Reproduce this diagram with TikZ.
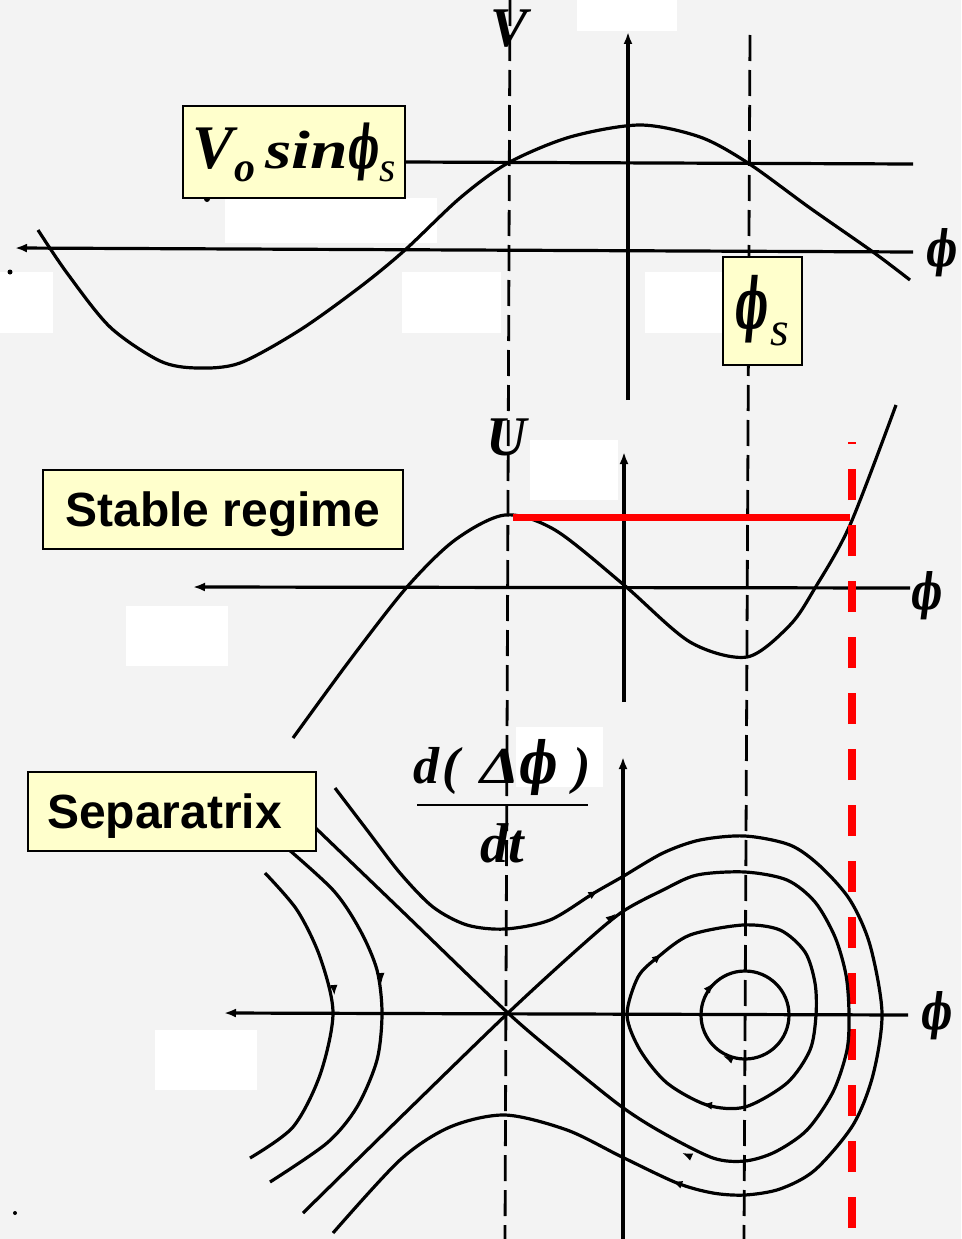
\documentclass[tikz,border=0pt]{standalone}
\usepackage{graphicx}
\usepackage{fontspec}
\setmainfont{Liberation Serif}
\newfontfamily\labelsans{Liberation Sans}
\newfontfamily\phifont{DejaVu Serif}
\usetikzlibrary{arrows.meta}
\definecolor{bg}{RGB}{243,243,243}
\definecolor{boxyellow}{RGB}{255,255,204}
\definecolor{markred}{RGB}{255,0,0}
\newcommand{\bphi}[1][0.8]{\scalebox{#1}[1]{\phifont\bfseries\itshape ϕ}}
\tikzset{
  curve/.style={line width=3.2pt, line join=round},
  axis/.style={line width=3.2pt, -{Latex[length=12pt,width=9pt]}},
  guide/.style={line width=2.8pt, dash pattern=on 26pt off 9pt},
  flow/.style={line width=1.5pt, -{Latex[length=10pt,width=8pt]}},
  ylwbox/.style={draw=black, line width=1.8pt, fill=boxyellow, inner sep=0pt},
  mask/.style={fill=white},
  redline/.style={draw=markred, line width=7pt},
  reddash/.style={draw=markred, line width=8pt, dash pattern=on 31pt off 25pt},
  sym/.style={inner sep=0pt, anchor=base},
}
\begin{document}
\begin{tikzpicture}[x=1pt,y=-1pt]
\fill[bg] (0,0) rectangle (961,1239);
\useasboundingbox (0,0) rectangle (961,1239);
% white masks
\fill[mask] (577,0) rectangle (677,31);
\fill[mask] (225,198) rectangle (437,243);
\fill[mask] (0,272) rectangle (53,333);
\fill[mask] (402,272) rectangle (501,333);
\fill[mask] (645,272) rectangle (722,333);
\fill[mask] (530,440) rectangle (618,500);
\fill[mask] (126,606) rectangle (228,666);
\fill[mask] (516,727) rectangle (603,787);
\fill[mask] (155,1030) rectangle (257,1090);
% specks
\fill (10,272) circle (2.5);
\fill (207,199) circle (3);
\fill (15,1213) circle (2);
% dashed guides
\draw[guide] (510,0) -- (505,1239);
\draw[guide] (750,35) -- (744,1239);
% ---------- top panel
\draw[axis] (628,400) -- (628,32);
\draw[axis] (913,252) -- (15,248);
\draw[curve] (405,162) -- (913,164);
\draw[curve] plot[smooth] coordinates {(38,230) (67,273) (110,327) (160,361) (197,368) (240,363) (300,330) (360,287) (405,250) (460,198) (508,163) (570,137) (640,125) (700,137) (748,163) (810,208) (873,252) (910,280)};
% ---------- middle panel
\draw[axis] (624,702) -- (624,452);
\draw[axis] (910,588) -- (193,587);
\draw[curve] plot[smooth] coordinates {(293,738) (350,660) (407,587) (455,540) (505,515) (555,530) (624,585) (690,642) (747,657) (790,625) (815,588) (850,525) (896,405)};
\coordinate (umax) at (513,517);
\coordinate (uhit) at (850,517);
\draw[redline] (umax) -- (uhit);
\draw[reddash] (852,1228) -- (852,442);
% ---------- bottom panel
\draw[axis] (623,1239) -- (623,757);
\draw[axis] (908,1015) -- (224,1013);
% outermost trajectory
\draw[curve] plot[smooth] coordinates {(335,788) (367,830) (400,873) (433,907) (467,925) (505,929) (550,920) (594,893) (622,877) (663,853) (700,840) (745,836) (790,845) (820,866) (850,900) (870,945) (882,1013) (873,1075) (853,1125) (815,1170) (780,1189) (745,1195) (713,1193) (677,1183) (622,1157) (567,1130) (505,1115) (450,1127) (400,1160) (333,1233)};
% separatrix
\draw[curve] plot[smooth] coordinates {(300,813) (404,913) (508,1013) (567,1063) (622,1107) (663,1133) (713,1158) (745,1161) (775,1152) (807,1130) (833,1092) (847,1050) (849,1013) (846,975) (835,937) (815,902) (787,880) (745,872) (697,875) (663,890) (622,912) (580,947) (508,1013) (405,1113) (303,1213)};
% closed orbit
\draw[curve] plot[smooth cycle] coordinates {(627,1015) (638,977) (658,957) (690,935) (743,925) (780,930) (805,952) (815,983) (816,1015) (810,1050) (787,1083) (745,1107) (707,1105) (667,1083) (640,1050)};
\draw[curve] (745,1015) circle (44);
% left open curves
\draw[curve] plot[smooth] coordinates {(265,873) (297,910) (320,957) (333,1013) (320,1075) (293,1127) (250,1158)};
\draw[curve] plot[smooth] coordinates {(280,842) (333,890) (360,930) (377,970) (382,1013) (377,1060) (357,1107) (327,1143) (270,1182)};
% flow arrows
\draw[flow] (594,893) -- ++(4.3,-2.5);
\draw[flow] (612,917) -- ++(3.8,-3.2);
\draw[flow] (658,957) -- ++(3.8,-3.3);
\draw[flow] (710,987) -- ++(3.1,-3.9);
\draw[flow] (728,1058) -- ++(-4.7,-1.8);
\draw[flow] (707,1105) -- ++(-5,-0.6);
\draw[flow] (687,1155) -- ++(-4.6,-2);
\draw[flow] (677,1183) -- ++(-4.7,-1.7);
\draw[flow] (334,990) -- ++(0.4,5);
\draw[flow] (381,978) -- ++(0.4,5);
% ---------- labels
\node[sym, font=\fontsize{56}{60}\selectfont\bfseries\itshape] (Vlab) at (509,47) {V};
\node[sym, font=\fontsize{56}{60}\selectfont\bfseries\itshape] (Ulab) at (507,455) {U};
\node[sym, font=\fontsize{50}{60}\selectfont] (phitop) at (942,266) {\bphi[0.66]};
\node[sym, font=\fontsize{50}{60}\selectfont] (phimid) at (927,609) {\bphi[0.66]};
\node[sym, font=\fontsize{50}{60}\selectfont] (phibot) at (937,1029) {\bphi[0.66]};
\node[ylwbox, minimum width=222, minimum height=92] (vsin) at (294,152)
  {{\fontsize{62}{62}\selectfont\bfseries\itshape V}\kern1pt\raisebox{-13pt}{\fontsize{42}{42}\selectfont\bfseries\itshape o}\kern10pt\scalebox{1.25}[1]{\fontsize{54}{54}\selectfont\bfseries\itshape sin}{\fontsize{60}{60}\selectfont\bphi[0.55]}\raisebox{-13pt}{\fontsize{42}{42}\selectfont\itshape s}};
\node[ylwbox, minimum width=79, minimum height=108] (phis) at (762.5,311)
  {{\fontsize{70}{70}\selectfont\bphi[0.5]}\kern2pt\raisebox{-17pt}{\fontsize{48}{48}\selectfont\itshape s}};
\node[ylwbox, minimum width=360, minimum height=79, font=\labelsans\bfseries\fontsize{48}{48}\selectfont, text height=34pt, text depth=0pt] (stable) at (223,509.5) {Stable regime};
\node[ylwbox, minimum width=288, minimum height=79, font=\labelsans\bfseries\fontsize{48}{48}\selectfont, text height=34pt, text depth=0pt] (sep) at (172,811.5) {\hspace*{-15pt}Separatrix};
\node[sym, font=\fontsize{52}{56}\selectfont\bfseries\itshape] (num) at (502,783) {d\kern4pt(\kern20pt\scalebox{1.2}[1]{Δ}{\fontsize{58}{58}\selectfont\bphi[0.7]}\kern16pt)};
\draw[line width=2.5pt] (417,805) -- (588,805);
\node[sym, font=\fontsize{56}{60}\selectfont\bfseries\itshape] (den) at (502,862) {dt};
\end{tikzpicture}
\end{document}
